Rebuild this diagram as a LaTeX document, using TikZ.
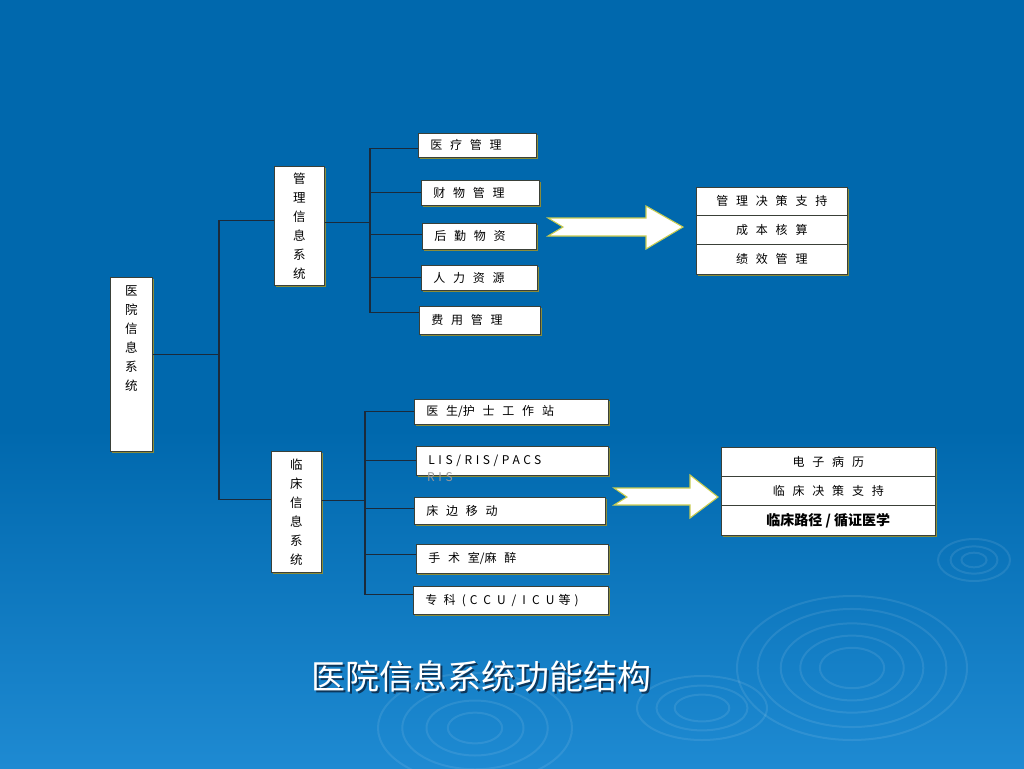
\documentclass[tikz,border=0pt]{standalone}
\usepackage{fontspec}
\setmainfont{Noto Sans CJK SC}
\newfontfamily\cjk{Noto Sans CJK SC}
\newfontfamily\cjksp[LetterSpace=65]{Noto Sans CJK SC}
\newfontfamily\cjkmid[LetterSpace=52]{Noto Sans CJK SC}
\newfontfamily\latsp[LetterSpace=30]{Noto Sans CJK SC}
\usetikzlibrary{shadows}
\definecolor{bgtop}{HTML}{0068AD}
\definecolor{bgbot}{HTML}{1E8AD2}
\definecolor{linec}{HTML}{1B2A3A}
\definecolor{edgec}{HTML}{3A4038}
\definecolor{shadc}{HTML}{8A8C3A}
\definecolor{arredge}{HTML}{C8CC50}
\definecolor{titleshadow}{HTML}{0A2440}
\tikzset{
  box/.style={draw=edgec, line width=0.6pt, fill=white, inner sep=0pt, text=black,
    general shadow={fill=shadc, shadow xshift=1.6pt, shadow yshift=-1.6pt}},
  vbox/.style={box, anchor=north west, align=center,
    font=\cjk\fontsize{12.5}{19}\selectfont},
  lbox/.style={box, anchor=north west, align=left, inner xsep=12pt,
    font=\cjksp\fontsize{12}{14}\selectfont},
  rbox/.style={box, anchor=north west, align=center,
    font=\cjksp\fontsize{12}{14}\selectfont},
  conn/.style={draw=linec, line width=1.1pt},
  ripple/.style={draw=white, draw opacity=0.09, line width=2pt},
  arrowshape/.style={fill=white, draw=arredge, line width=1.1pt, line join=miter}
}
\begin{document}
\begin{tikzpicture}[x=1pt,y=-1pt]
% background
\fill[bgtop] (0,0) rectangle (1024,430);
\shade[top color=bgtop, bottom color=bgbot] (0,429) rectangle (1024,768);
\useasboundingbox (0,0) rectangle (1024,768);
% ripples
\foreach \r in {1,0.82,0.62,0.45,0.28}{
  \draw[ripple] (852,668) ellipse ({115*\r} and {72*\r});}
\foreach \r in {1,0.65,0.35}{
  \draw[ripple] (974,560) ellipse ({36*\r} and {21*\r});}
\foreach \r in {1,0.75,0.5,0.28}{
  \draw[ripple] (475,728) ellipse ({97*\r} and {55*\r});}
\foreach \r in {1,0.7,0.42}{
  \draw[ripple] (702,708) ellipse ({65*\r} and {32*\r});}

% main box
\node[vbox, minimum width=42pt, minimum height=174pt] (main) at (110,277)
  {医\\院\\信\\息\\系\\统\\[34pt]\mbox{}};
% second level
\node[vbox, minimum width=50pt, minimum height=119pt] (mgmt) at (274,166)
  {管\\理\\信\\息\\系\\统};
\node[vbox, minimum width=50pt, minimum height=121pt] (clin) at (271,451)
  {临\\床\\信\\息\\系\\统};

% management leaves
\node[lbox, text width=94pt, minimum height=24pt] (m1) at (418,133) {医疗管理};
\node[lbox, text width=94pt, minimum height=25pt] (m2) at (421,180) {财物管理};
\node[lbox, text width=90pt, minimum height=26pt] (m3) at (422,223) {后勤物资};
\node[lbox, text width=92pt, minimum height=25pt] (m4) at (421,265) {人力资源};
\node[lbox, text width=97pt, minimum height=28pt] (m5) at (419,306) {费用管理};

% clinical leaves
\node[lbox, text width=170pt, minimum height=25pt] (c1) at (414,399) {医生{\cjk /}护士工作站};
\node[lbox, text width=168pt, minimum height=29pt, font=\latsp\fontsize{12}{14}\selectfont] (c2) at (416,446) {LIS/RIS/PACS};
\node[lbox, text width=167pt, minimum height=27pt] (c3) at (414,497) {床边移动};
\node[lbox, text width=168pt, minimum height=29pt] (c4) at (416,544) {手术室{\cjk /}麻醉};
\node[lbox, text width=171pt, minimum height=28pt, font=\cjkmid\fontsize{12}{14}\selectfont] (c5) at (413,586) {专科( CCU/ICU 等 )};
\node[anchor=west, inner sep=0pt, text=black!40, font=\latsp\fontsize{12}{14}\selectfont] (c2x) at (427,477) {RIS};

% right boxes top
\node[rbox, minimum width=151pt, minimum height=28pt] (r1) at (696,187) {管理决策支持};
\node[rbox, minimum width=151pt, minimum height=29pt] (r2) at (696,215) {成本核算};
\node[rbox, minimum width=151pt, minimum height=30pt] (r3) at (696,244) {绩效管理};
% right boxes bottom
\node[rbox, minimum width=214pt, minimum height=29pt] (s1) at (721,447) {电子病历};
\node[rbox, minimum width=214pt, minimum height=29pt] (s2) at (721,476) {临床决策支持};
\node[rbox, minimum width=214pt, minimum height=30pt, font=\cjk\bfseries\fontsize{14}{16}\selectfont] (s3) at (721,505) {临床路径 / 循证医学};

% connectors
\coordinate (b1) at (219,0);
\coordinate (b2) at (370,0);
\coordinate (b3) at (365,0);
\draw[conn] ([yshift=10pt]main.east) -- ([yshift=10pt]main.east -| b1);
\draw[conn] ([yshift=5pt]mgmt.west) -| ([yshift=12pt]b1 |- clin.west) -- ([yshift=12pt]clin.west);
\draw[conn] ([yshift=3pt]mgmt.east) -- ([yshift=3pt]mgmt.east -| b2);
\draw[conn] ([yshift=-3pt]m1.west) -| ([yshift=8pt]b2 |- m5.west) -- ([yshift=8pt]m5.west);
\draw[conn] (m2.west) -- (m2.west -| b2);
\draw[conn] ([yshift=2pt]m3.west) -- ([yshift=2pt]m3.west -| b2);
\draw[conn] (m4.west) -- (m4.west -| b2);
\draw[conn] ([yshift=11pt]clin.east) -- ([yshift=11pt]clin.east -| b3);
\draw[conn] (c1.west) -| ([yshift=6pt]b3 |- c5.west) -- ([yshift=6pt]c5.west);
\draw[conn] (c2.west) -- (c2.west -| b3);
\draw[conn] ([yshift=2pt]c3.west) -- ([yshift=2pt]c3.west -| b3);
\draw[conn] ([yshift=4pt]c4.west) -- ([yshift=4pt]c4.west -| b3);

% block arrows
\draw[arrowshape] (548,218) -- (646,218) -- (646,206) -- (683,227) -- (646,249) -- (646,236) -- (548,236) -- (563,227) -- cycle;
\draw[arrowshape] (614,488) -- (690,488) -- (690,475) -- (718,497) -- (690,518) -- (690,505) -- (614,505) -- (627,497) -- cycle;

% title
\node[text=titleshadow, opacity=0.8, font=\cjk\fontsize{34}{36}\selectfont] (titles) at (483.5,678.5) {医院信息系统功能结构};
\node[text=white, font=\cjk\fontsize{34}{36}\selectfont] (title) at (481,676) {医院信息系统功能结构};
\end{tikzpicture}
\end{document}
